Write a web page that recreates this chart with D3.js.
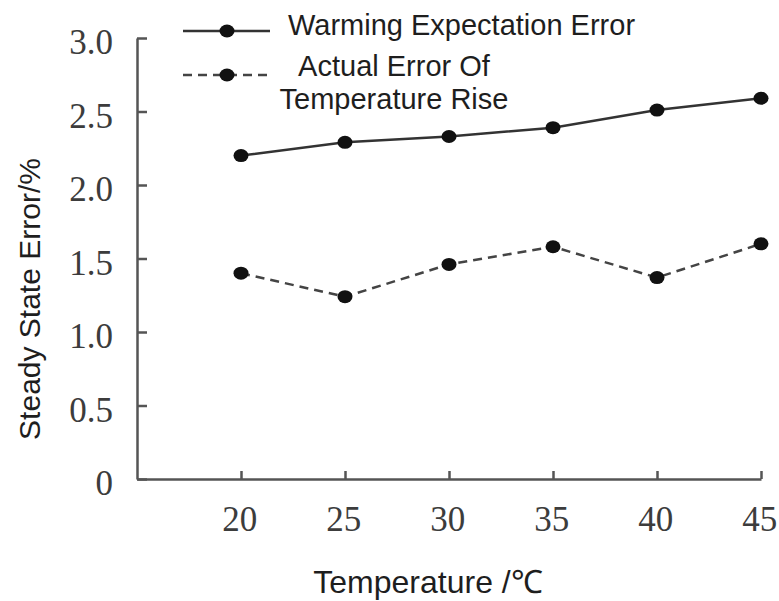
<!DOCTYPE html>
<html>
<head>
<meta charset="utf-8">
<script src="https://cdn.jsdelivr.net/npm/d3@7"></script>
<style>
  body { margin: 0; background: #fff; }
  .axis path, .axis line { stroke: #555; stroke-width: 2.5; }
  .axis text { font-family: "Liberation Serif", "DejaVu Serif", serif; font-size: 35px; fill: #3c3c3c; }
  .lbl { font-family: "Liberation Sans", Arial, sans-serif; font-size: 29px; fill: #1e1e1e; }
</style>
</head>
<body>
<div id="chart"></div>
<script>
// data
const temps = [20, 25, 30, 35, 40, 45];
const warmingExpected = [2.20, 2.29, 2.33, 2.39, 2.51, 2.59];
const actualError = [1.40, 1.24, 1.46, 1.58, 1.37, 1.60];
const yTicks = [0, 0.5, 1.0, 1.5, 2.0, 2.5, 3.0];

const width = 779, height = 601;
const margin = {top: 38, right: 18, bottom: 122, left: 137};

const svg = d3.select("#chart").append("svg")
    .attr("width", width)
    .attr("height", height);

const x = d3.scaleLinear()
    .domain([15, 45])
    .range([margin.left, width - margin.right]);
const y = d3.scaleLinear()
    .domain([0, 3])
    .range([height - margin.bottom, margin.top]);

// axes, ticks pointing inward
svg.append("g")
    .attr("class", "axis")
    .attr("transform", `translate(0, ${height - margin.bottom})`)
    .call(d3.axisBottom(x).tickValues(temps).tickSizeInner(-8).tickSizeOuter(0).tickPadding(27))
    .call(g => g.selectAll("text").attr("dx", "-0.05em"));

svg.append("g")
    .attr("class", "axis")
    .attr("transform", `translate(${margin.left}, 0)`)
    .call(d3.axisLeft(y).tickValues(yTicks).tickSizeInner(-10).tickSizeOuter(0).tickPadding(24)
        .tickFormat(d => d === 0 ? "0" : d3.format(".1f")(d)))
    .call(g => g.selectAll("text").attr("dy", "0.45em"));

// lines
const pts1 = temps.map((t, i) => [t, warmingExpected[i]]);
const pts2 = temps.map((t, i) => [t, actualError[i]]);
const line = d3.line().x(d => x(d[0])).y(d => y(d[1]));

svg.append("path").datum(pts1)
    .attr("fill", "none").attr("stroke", "#333").attr("stroke-width", 2.5)
    .attr("d", line);
svg.append("path").datum(pts2)
    .attr("fill", "none").attr("stroke", "#444").attr("stroke-width", 2.5)
    .attr("stroke-dasharray", "9,6")
    .attr("d", line);

svg.selectAll(".dot1").data(pts1).enter().append("ellipse")
    .attr("class", "dot1")
    .attr("cx", d => x(d[0])).attr("cy", d => y(d[1]))
    .attr("rx", 7.5).attr("ry", 6.5).attr("fill", "#111");
svg.selectAll(".dot2").data(pts2).enter().append("ellipse")
    .attr("class", "dot2")
    .attr("cx", d => x(d[0])).attr("cy", d => y(d[1]))
    .attr("rx", 7.5).attr("ry", 6.5).attr("fill", "#111");

// legend
const leg = svg.append("g");
leg.append("line").attr("x1", 183).attr("x2", 270).attr("y1", 31).attr("y2", 31)
    .attr("stroke", "#333").attr("stroke-width", 2.5);
leg.append("ellipse").attr("cx", 227).attr("cy", 31).attr("rx", 7.5).attr("ry", 6.5).attr("fill", "#111");
leg.append("text").attr("class", "lbl").attr("x", 288).attr("y", 35).text("Warming Expectation Error");

leg.append("line").attr("x1", 183).attr("x2", 270).attr("y1", 75).attr("y2", 75)
    .attr("stroke", "#444").attr("stroke-width", 2.5).attr("stroke-dasharray", "9,6");
leg.append("ellipse").attr("cx", 227).attr("cy", 75).attr("rx", 7.5).attr("ry", 6.5).attr("fill", "#111");
leg.append("text").attr("class", "lbl").attr("x", 394).attr("y", 76)
    .attr("text-anchor", "middle").text("Actual Error Of");
leg.append("text").attr("class", "lbl").attr("x", 394).attr("y", 109)
    .attr("text-anchor", "middle").text("Temperature Rise");

// axis titles
svg.append("text").attr("class", "lbl")
    .attr("x", 428).attr("y", 593)
    .attr("text-anchor", "middle")
    .style("font-size", "32px")
    .text("Temperature /℃");
svg.append("text").attr("class", "lbl")
    .attr("transform", "translate(40, 299) rotate(-90)")
    .attr("text-anchor", "middle")
    .style("font-size", "30px")
    .text("Steady State Error/%");
</script>
</body>
</html>
